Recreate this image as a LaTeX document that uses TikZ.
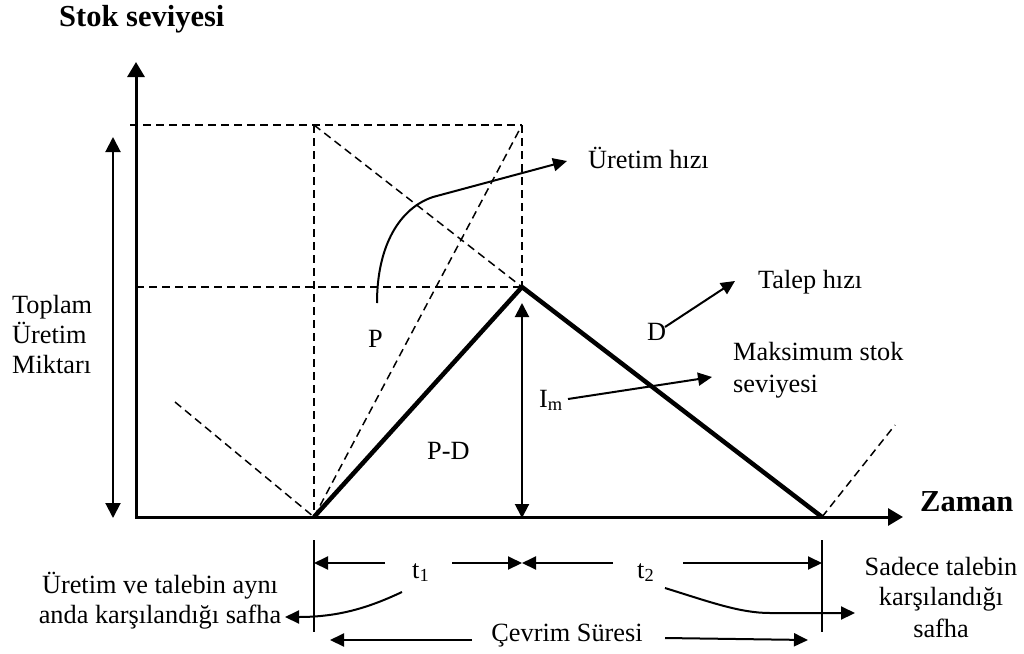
\documentclass[tikz,border=0pt]{standalone}
\usepackage{fontspec}
\setmainfont{Liberation Serif}
\usetikzlibrary{arrows.meta}
\begin{document}
\begin{tikzpicture}[x=1pt,y=-1pt,
  txt/.style={inner sep=0pt, font=\fontsize{26.3}{31}\selectfont},
  boldtxt/.style={inner sep=0pt, font=\fontsize{30.5}{36}\selectfont\bfseries},
  axisline/.style={line width=3pt},
  guide/.style={line width=1.8pt, dash pattern=on 8pt off 5pt},
  profile/.style={line width=4.5pt},
  thinline/.style={line width=2pt},
  tip/.style={-{Triangle[length=14pt,width=13pt]}},
  twotip/.style={{Triangle[length=14pt,width=14pt]}-{Triangle[length=14pt,width=14pt]}},
]
\useasboundingbox (0,0) rectangle (1024,653);

% key points of the inventory cycle
\coordinate (O) at (136,517);
\coordinate (ytip) at (136,62);
\coordinate (xtip) at (903,517);
\coordinate (A) at (314,517);
\coordinate (M) at (522,287);
\coordinate (B) at (822,517);
\coordinate (Atop) at (314,125);
\coordinate (Mtop) at (522,125);
\coordinate (Hl) at (130,125);
\coordinate (Ml) at (136,287);
\coordinate (prevD) at (175,402);
\coordinate (nextP) at (895,425);

% axes
\draw[axisline, {Triangle[length=15pt,width=17pt]}-{Triangle[length=15pt,width=17pt]}]
  (ytip) -- (O) -- (xtip);

% dashed construction lines
\draw[guide] (Hl) -- (Mtop);
\draw[guide] (Ml) -- (M);
\draw[guide] (Atop) -- (A);
\draw[guide] (Mtop) -- (M);
\draw[guide, line width=1.5pt] (Atop) -- (M);
\draw[guide, line width=1.5pt] (A) -- (Mtop);
\draw[guide, line width=1.5pt] (prevD) -- (A);
\draw[guide, line width=1.5pt] (B) -- (nextP);

% inventory profile
\draw[profile] (A) -- (M) -- (B);

% total production quantity and maximum stock
\coordinate (Qtop) at (113,137);
\coordinate (Qbot) at (113,518);
\draw[thinline, {Triangle[length=15pt,width=15pt]}-{Triangle[length=15pt,width=15pt]}] (Qtop) -- (Qbot);
\coordinate (Imtop) at (522,303);
\coordinate (Imbot) at (522,518);
\draw[thinline, twotip] (Imtop) -- (Imbot);

% axis titles
\node[boldtxt, anchor=base west] (ylab) at (59,27) {Stok seviyesi};
\node[boldtxt, anchor=base west] (xlab) at (920,511) {Zaman};

% left label
\node[txt, anchor=base west] (tot1) at (12,313) {Toplam};
\node[txt, anchor=base west] (tot2) at (12,343) {Üretim};
\node[txt, anchor=base west] (tot3) at (12,373) {Miktarı};

% rates
\node[txt, anchor=base west] (P) at (368,347) {P};
\node[txt, anchor=base west] (PD) at (427,459) {P-D};
\node[txt, anchor=base west] (D) at (647,340) {D};
\node[txt, anchor=base west] (Im) at (539,407) {I\textsubscript{m}};
\node[txt, anchor=base west] (prodrate) at (588,168) {Üretim hızı};
\node[txt, anchor=base west] (demrate) at (758,288) {Talep hızı};
\node[txt, anchor=base west] (maxs1) at (733,360) {Maksimum stok};
\node[txt, anchor=base west] (maxs2) at (733,392) {seviyesi};

% pointer arrows
\coordinate (p0) at (377,303);
\coordinate (p1) at (433,197);
\coordinate (p2) at (567,161);
\draw[thinline, tip] (p0) .. controls (377,245) and (400,208) .. (p1) -- (p2);
\coordinate (d0) at (665,327);
\coordinate (d1) at (735,281);
\draw[thinline, tip] (d0) -- (d1);
\coordinate (m0) at (568,399);
\coordinate (m1) at (712,377);
\draw[thinline, tip] (m0) -- (m1);

% time spans below the axis
\coordinate (tA1) at (314,540);
\coordinate (tA2) at (314,632);
\coordinate (tB1) at (822,540);
\coordinate (tB2) at (822,632);
\draw[thinline] (tA1) -- (tA2);
\draw[thinline] (tB1) -- (tB2);

\node[txt, anchor=base west] (t1) at (412,578) {t\textsubscript{1}};
\node[txt, anchor=base west] (t2) at (637,578) {t\textsubscript{2}};
\coordinate (s1a) at (385,563);
\coordinate (s1b) at (314,563);
\coordinate (s1c) at (452,563);
\coordinate (s1d) at (522,563);
\coordinate (s2a) at (613,563);
\coordinate (s2b) at (683,563);
\coordinate (s2c) at (822,563);
\draw[thinline, tip] (s1a) -- (s1b);
\draw[thinline, tip] (s1c) -- (s1d);
\draw[thinline, tip] (s2a) -- (s1d);
\draw[thinline, tip] (s2b) -- (s2c);

\node[txt, anchor=base] (cyc) at (567,641) {Çevrim Süresi};
\coordinate (c0) at (472,640);
\coordinate (c1) at (330,640);
\coordinate (c2) at (665,638);
\coordinate (c3) at (808,640);
\draw[thinline, tip] (c0) -- (c1);
\draw[thinline, tip] (c2) -- (c3);

% phase labels
\node[txt, anchor=base] (ph1a) at (160,593) {Üretim ve talebin aynı};
\node[txt, anchor=base] (ph1b) at (160,623) {anda karşılandığı safha};
\node[txt, anchor=base] (ph2a) at (941,575) {Sadece talebin};
\node[txt, anchor=base] (ph2b) at (941,605) {karşılandığı};
\node[txt, anchor=base] (ph2c) at (941,637) {safha};

\coordinate (q0) at (402,592);
\coordinate (q1) at (285,617);
\draw[thinline, tip] (q0) .. controls (370,607) and (340,617) .. (q1);
\coordinate (r0) at (665,588);
\coordinate (r1) at (770,613);
\coordinate (r2) at (855,613);
\draw[thinline, tip] (r0) .. controls (710,602) and (740,613) .. (r1) -- (r2);
\end{tikzpicture}
\end{document}
